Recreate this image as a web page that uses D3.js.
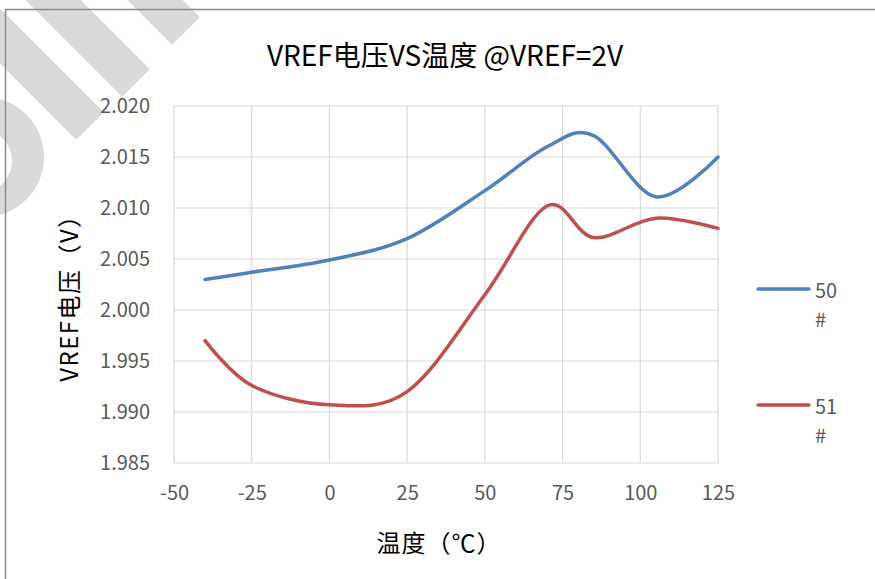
<!DOCTYPE html>
<html>
<head>
<meta charset="utf-8">
<script src="https://cdn.jsdelivr.net/npm/d3@7"></script>
<style>
  body { margin: 0; background: #fff; }
  svg { display: block; }
  text { font-family: "Noto Sans CJK SC", "Noto Sans", sans-serif; }
</style>
</head>
<body>
<svg id="chart" width="875" height="579"></svg>
<script>
// Measured reference voltage of two samples across temperature
const temperatures = [-40, -25, 0, 25, 50, 70, 85, 105, 125];
const vref50 = [2.0030, 2.0037, 2.0049, 2.0070, 2.0117, 2.0160, 2.0171, 2.0111, 2.0150];
const vref51 = [1.9970, 1.9926, 1.9907, 1.9920, 2.0015, 2.0102, 2.0071, 2.0090, 2.0080];
const seriesNames = ["50#", "51#"];
const xTicks = [-50, -25, 0, 25, 50, 75, 100, 125];
const yTicks = [1.985, 1.990, 1.995, 2.000, 2.005, 2.010, 2.015, 2.020];

const titleText = "VREF电压VS温度 @VREF=2V";
const xTitle = "温度（℃）";
const yTitle = "VREF电压（V）";
const colors = ["#4f81bd", "#c0504d"];

const svg = d3.select("#chart");
const W = 875, H = 579;
svg.append("rect").attr("width", W).attr("height", H).attr("fill", "#fff");

// Light grey logo marks in the upper-left corner
const mark = svg.append("g").attr("fill", "#dadada");
const dir = [Math.SQRT1_2, Math.SQRT1_2], nrm = [Math.SQRT1_2, -Math.SQRT1_2];
const hw = 19.5, len = 260;
[[186, 31], [136, 83], [90, 126]].forEach(c => {
  const a = [c[0] + nrm[0] * hw, c[1] + nrm[1] * hw];
  const b = [c[0] - nrm[0] * hw, c[1] - nrm[1] * hw];
  const pts = [a, b,
    [b[0] - dir[0] * len, b[1] - dir[1] * len],
    [a[0] - dir[0] * len, a[1] - dir[1] * len]];
  mark.append("polygon").attr("points", pts.map(p => p.join(",")).join(" "));
});
const ring = d3.path();
ring.arc(-16, 157, 60, 0, 2 * Math.PI);
ring.moveTo(-20 + 32, 161);
ring.arc(-20, 161, 32, 0, 2 * Math.PI);
mark.append("path").attr("d", ring.toString()).attr("fill-rule", "evenodd");

// Chart frame
svg.append("path")
  .attr("d", `M5.5,${H} V9.5 H${W}`)
  .attr("fill", "none").attr("stroke", "#8a8a8a").attr("stroke-width", 1.5);

const x = d3.scaleLinear().domain([-50, 125]).range([174, 718]);
const y = d3.scaleLinear().domain([1.985, 2.020]).range([463, 106]);

// Gridlines
const grid = svg.append("g").attr("stroke", "#d9d9d9").attr("stroke-width", 1.2);
grid.selectAll("line.v").data(xTicks).join("line")
  .attr("x1", d => x(d)).attr("x2", d => x(d))
  .attr("y1", y.range()[1]).attr("y2", y.range()[0]);
grid.selectAll("line.h").data(yTicks).join("line")
  .attr("x1", x.range()[0]).attr("x2", x.range()[1])
  .attr("y1", d => y(d)).attr("y2", d => y(d));

// Axes (labels only; lines come from the grid)
const xAxis = svg.append("g")
  .attr("transform", `translate(0,${y.range()[0]})`)
  .call(d3.axisBottom(x).tickValues(xTicks).tickSize(0).tickPadding(23).tickFormat(d => String(d)));
const yAxis = svg.append("g")
  .attr("transform", `translate(${x.range()[0]},0)`)
  .call(d3.axisLeft(y).tickValues(yTicks).tickSize(0).tickPadding(24).tickFormat(d3.format(".3f")));
[xAxis, yAxis].forEach(g => {
  g.select(".domain").remove();
  g.selectAll("text")
    .attr("fill", "#595959")
    .style("font-family", '"Noto Sans CJK SC", sans-serif')
    .style("font-size", "20px");
});

// Series lines
const line = d3.line()
  .x(d => x(d[0])).y(d => y(d[1]))
  .curve(d3.curveCatmullRom.alpha(0));
const series = [vref50, vref51];
series.forEach((vals, i) => {
  svg.append("path")
    .datum(temperatures.map((t, k) => [t, vals[k]]))
    .attr("d", line)
    .attr("fill", "none")
    .attr("stroke", colors[i])
    .attr("stroke-width", 3.5)
    .attr("stroke-linecap", "round")
    .attr("stroke-linejoin", "round");
});

// Title and axis titles
svg.append("text")
  .attr("x", 445).attr("y", 54)
  .attr("text-anchor", "middle").attr("dominant-baseline", "central")
  .style("font-size", "28px").attr("fill", "#000")
  .text(titleText);
svg.append("text")
  .attr("x", 439).attr("y", 541)
  .attr("text-anchor", "middle").attr("dominant-baseline", "central")
  .style("font-size", "24px").style("letter-spacing", "1px").attr("fill", "#000")
  .text(xTitle);
svg.append("text")
  .attr("transform", "translate(67,292) rotate(-90)")
  .attr("text-anchor", "middle").attr("dominant-baseline", "central")
  .style("font-size", "24px").style("letter-spacing", "1.5px").attr("fill", "#000")
  .text(yTitle);

// Legend
const legendY = [289, 405];
seriesNames.forEach((name, i) => {
  const g = svg.append("g");
  g.append("line")
    .attr("x1", 758).attr("x2", 809)
    .attr("y1", legendY[i]).attr("y2", legendY[i])
    .attr("stroke", colors[i]).attr("stroke-width", 3.5)
    .attr("stroke-linecap", "round");
  const parts = [name.replace("#", ""), "#"];
  parts.forEach((p, k) => {
    g.append("text")
      .attr("x", 815).attr("y", legendY[i] + k * 29)
      .attr("dominant-baseline", "central")
      .attr("fill", "#595959").style("font-size", "20px")
      .text(p);
  });
});
</script>
</body>
</html>
